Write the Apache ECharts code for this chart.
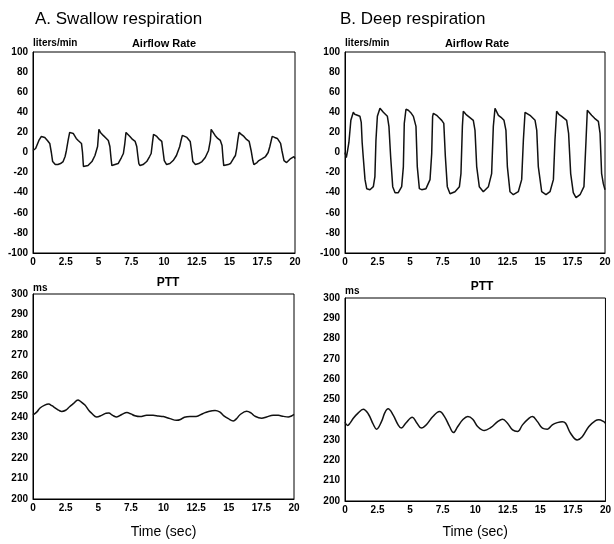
<!DOCTYPE html>
<html>
<head>
<meta charset="utf-8">
<script src="https://cdn.jsdelivr.net/npm/echarts@6/dist/echarts.min.js"></script>
<style>html,body{margin:0;padding:0;background:#fff}#c{width:614px;height:544px}</style>
</head>
<body>
<div id="c"></div>
<script>
// ---- data ----
var xTicks = [0, 2.5, 5, 7.5, 10, 12.5, 15, 17.5, 20];
var panelTitles = ['A. Swallow respiration', 'B. Deep respiration'];

var airA_t = [0,0.2,0.45,0.64,0.9,1.1,1.28,1.4,1.5,1.7,1.9,2.1,2.3,2.45,2.55,2.68,2.8,3.07,3.3,3.45,3.7,3.78,3.85,3.96,4.2,4.5,4.73,4.93,5.03,5.15,5.36,5.6,5.75,5.87,5.95,6.02,6.13,6.5,6.75,6.9,7.0,7.1,7.4,7.6,7.8,7.92,8.0,8.08,8.17,8.4,8.68,8.9,9.02,9.12,9.2,9.45,9.65,9.83,9.92,10.02,10.2,10.45,10.7,10.95,11.2,11.3,11.4,11.75,12.0,12.1,12.2,12.4,12.65,12.9,13.15,13.4,13.54,13.6,13.75,13.9,14.1,14.3,14.43,14.5,14.56,14.7,14.9,15.07,15.3,15.45,15.55,15.63,15.73,15.9,16.1,16.3,16.5,16.65,16.78,16.86,16.98,17.1,17.24,17.5,17.75,17.95,18.08,18.26,18.45,18.65,18.8,18.9,19.0,19.16,19.36,19.5,19.67,19.92,20];
var airA_v = [2,4,12,16,15,12,9,0,-9,-12,-12,-11,-9,-4,2,12,20,19,14,12,9,0,-14,-15,-13,-9,-3,6,23,20,17,14,12,6,-5,-13,-14,-11,-5,-1,8,20,16,13,11,6,-3,-11,-13,-12,-9,-4,-1,10,18,16,13,11,2,-8,-12,-11,-8,-3,6,12,17,15,11,2,-9,-12,-11,-9,-5,2,12,23,20,17,14,12,7,-5,-13,-14,-12,-11,-6,-3,4,12,20,18,16,13,11,2,-8,-12,-13,-10,-8,-6,-4,0,6,16,15,14,11,9,2,-8,-10,-9,-6,-4,-6];

var airB_t = [0,0.1,0.2,0.3,0.45,0.64,0.75,0.9,1.15,1.25,1.32,1.4,1.54,1.67,1.92,2.18,2.3,2.38,2.49,2.69,2.95,3.26,3.38,3.51,3.67,3.85,4.1,4.36,4.49,4.56,4.69,4.87,5.1,5.26,5.46,5.56,5.72,5.9,6.23,6.54,6.67,6.74,6.8,7.05,7.2,7.44,7.6,7.72,7.87,8.08,8.46,8.8,8.92,9.03,9.1,9.3,9.49,9.87,10.0,10.13,10.33,10.64,11.03,11.28,11.41,11.54,11.8,12.0,12.23,12.38,12.49,12.69,12.95,13.33,13.59,13.72,13.85,14.23,14.62,14.75,14.87,15.13,15.46,15.77,16.03,16.15,16.28,16.45,16.67,17.05,17.2,17.36,17.56,17.77,18.08,18.38,18.54,18.64,18.97,19.2,19.49,19.62,19.74,19.87,20];
var airB_v = [0,-5,2,10,32,40,38,37,36,30,10,-4,-27,-36,-37,-34,-24,12,36,44,40,36,26,-4,-34,-40,-40,-34,-14,29,43,42,39,36,26,-14,-36,-37,-36,-27,-1,36,39,37,35,32,29,-4,-34,-41,-39,-34,-21,26,41,38,36,32,22,-14,-34,-39,-34,-21,26,44,37,35,32,22,-14,-39,-42,-39,-27,12,40,37,32,22,-14,-39,-42,-39,-27,12,41,38,36,32,19,-21,-40,-45,-42,-34,12,42,37,34,31,19,-21,-31,-37];

var pttA_t = [0,0.3,0.54,0.9,1.2,1.45,1.69,2.0,2.2,2.5,2.8,3.09,3.45,3.6,3.98,4.3,4.5,4.88,5.26,5.6,5.8,6.1,6.41,6.8,7.2,7.5,7.81,8.2,8.71,9.2,9.6,9.99,10.5,11.0,11.3,11.6,12.03,12.5,13.0,13.4,13.95,14.3,14.6,14.97,15.35,15.6,15.86,16.37,16.7,17.0,17.52,17.9,18.4,18.8,19.2,19.56,19.8,20];
var pttA_v = [241,242.5,244.4,245.8,246.3,245.5,244.5,243.2,242.7,243.3,245,246.5,248.3,247.8,245.8,243,241.8,240,240.8,241.8,241.9,240.8,240,241.2,242.2,241.5,240.6,240.2,240.8,240.8,240.5,240.2,239.2,238.4,238.8,239.9,240.3,240.3,241.6,242.6,243.2,242.5,240.7,239.2,238.1,239.2,241.1,242.8,242,240.4,239.4,240,240.9,240.8,240.3,240,240.5,241.3];

var pttB_t = [0,0.2,0.4,0.64,1.0,1.4,1.78,2.17,2.42,2.8,3.06,3.31,3.69,4.08,4.33,4.66,5.17,5.53,5.86,6.24,6.75,7.26,7.64,8.03,8.33,8.66,9.04,9.43,9.81,10.19,10.7,11.21,11.72,12.1,12.48,12.87,13.25,13.63,14.14,14.39,14.78,15.16,15.54,15.92,16.3,16.69,16.94,17.32,17.83,18.22,18.73,19.24,19.49,19.87,20];
var pttB_v = [238.8,237.2,238.5,240.8,243.3,245.2,243,237.8,235.4,239.1,243.5,245.4,242.4,237.5,235.9,238.3,241.3,238.3,235.9,237.5,241.6,244.1,241.6,236.7,233.7,236.7,240,241.6,240.3,236.7,234.7,236.3,239.1,240.3,238.3,235,234.2,237.5,240.8,241.6,239.1,235.9,235.4,237.5,238.6,239.1,238.3,233.4,230.1,231.7,236.7,239.6,240,239.1,238.3];

// ---- build ----
function zip(t, v) { return t.map(function (x, i) { return [x, v[i]]; }); }
var FONT = '"Liberation Sans", Arial, Helvetica, sans-serif';

var grids = [
  {left: 33, top: 52, width: 262, height: 201},
  {left: 345, top: 52, width: 260, height: 201},
  {left: 33, top: 294, width: 261, height: 205},
  {left: 345, top: 298, width: 262, height: 203}
];
grids.forEach(function (g) { g.show = true; g.borderColor = '#000'; g.borderWidth = 1; g.containLabel = false; });

var tickLbl = {color: '#000', fontSize: 10, fontWeight: 'bold', fontFamily: FONT};

function xAx(i, withName, gap) {
  return {
    type: 'value', gridIndex: i, min: 0, max: 20, interval: 2.5,
    axisLine: {show: true, onZero: false, lineStyle: {color: '#000', width: 1}},
    axisTick: {show: false}, splitLine: {show: false},
    axisLabel: Object.assign({margin: 4}, tickLbl),
    name: withName ? 'Time (sec)' : '', nameLocation: 'middle', nameGap: gap || 26,
    nameTextStyle: {color: '#000', fontSize: 14, fontFamily: FONT}
  };
}
function yAx(i, min, max, interval, unit, gap) {
  return {
    type: 'value', gridIndex: i, min: min, max: max, interval: interval,
    axisLine: {show: true, lineStyle: {color: '#000', width: 1}},
    axisTick: {show: false}, splitLine: {show: false},
    axisLabel: Object.assign({margin: 5}, tickLbl),
    name: unit, nameLocation: 'end', nameGap: gap,
    nameTextStyle: {color: '#000', fontSize: 10, fontWeight: 'bold', fontFamily: FONT, align: 'left', verticalAlign: 'bottom'}
  };
}

function line(i, data, smooth) {
  return {
    type: 'line', xAxisIndex: i, yAxisIndex: i, data: data, showSymbol: false,
    smooth: smooth, lineStyle: {color: '#111', width: 1.5}, animation: false
  };
}

function txt(x, y, s, size, weight, align) {
  return {type: 'text', x: x, y: y, style: {text: s, fill: '#000', font: (weight || 'normal') + ' ' + size + 'px ' + FONT, align: align || 'left', verticalAlign: 'middle'}};
}

var option = {
  backgroundColor: '#fff',
  animation: false,
  grid: grids,
  xAxis: [xAx(0, false), xAx(1, false), xAx(2, true, 26), xAx(3, true, 24)],
  yAxis: [
    yAx(0, -100, 100, 20, 'liters/min', 4),
    yAx(1, -100, 100, 20, 'liters/min', 4),
    yAx(2, 200, 300, 10, 'ms', 1),
    yAx(3, 200, 300, 10, 'ms', 2)
  ],
  series: [
    line(0, zip(airA_t, airA_v), false),
    line(1, zip(airB_t, airB_v), false),
    line(2, zip(pttA_t, pttA_v), 0.4),
    line(3, zip(pttB_t, pttB_v), 0.4)
  ],
  graphic: [
    txt(35, 19, panelTitles[0], 17),
    txt(340, 19, panelTitles[1], 17),
    txt(164, 44, 'Airflow Rate', 11, 'bold', 'center'),
    txt(477, 44, 'Airflow Rate', 11, 'bold', 'center'),
    txt(168, 283, 'PTT', 12, 'bold', 'center'),
    txt(482, 287, 'PTT', 12, 'bold', 'center')
  ]
};

var chart = echarts.init(document.getElementById('c'), null, {renderer: 'canvas'});
chart.setOption(option);
</script>
</body>
</html>
